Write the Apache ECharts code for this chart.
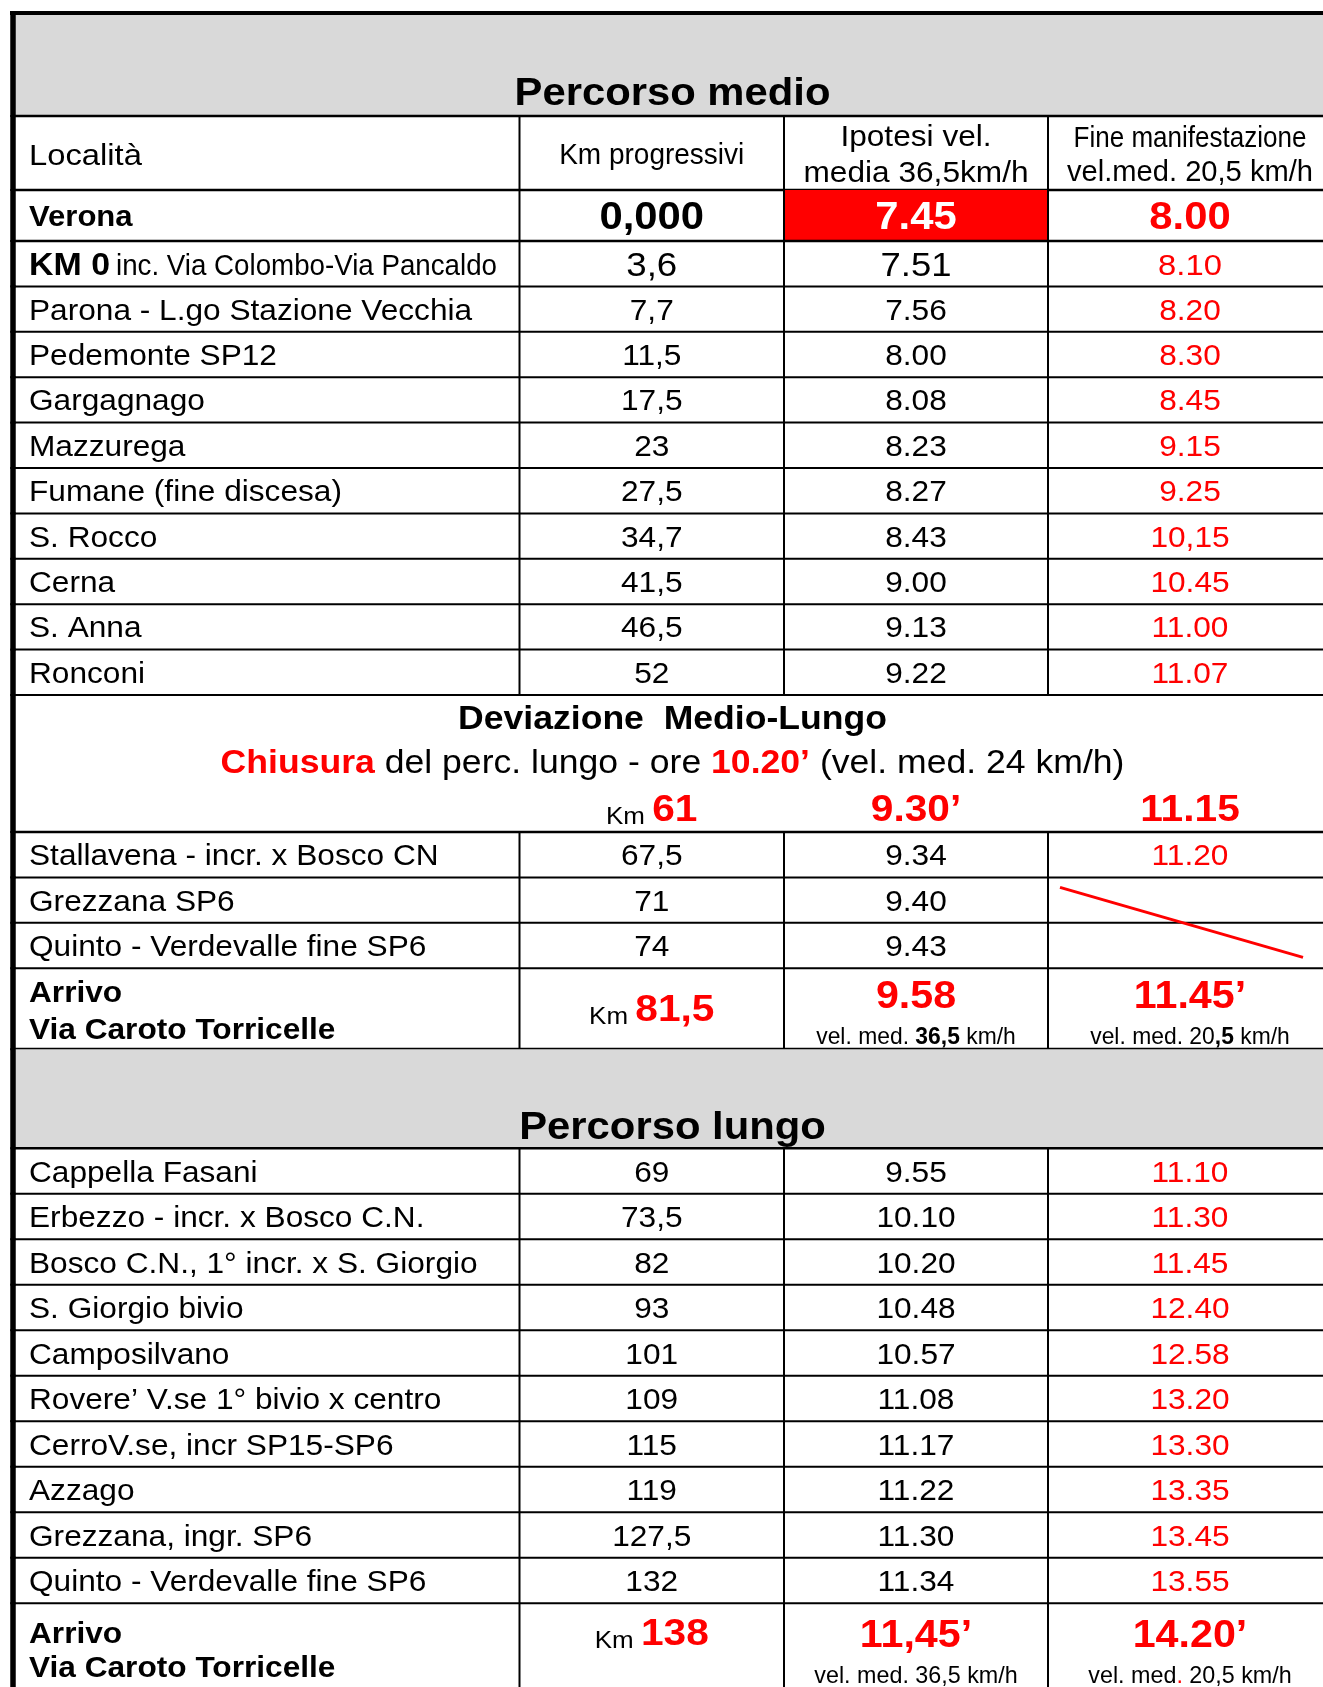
<!DOCTYPE html>
<html>
<head>
<meta charset="utf-8">
<script src="https://cdn.jsdelivr.net/npm/echarts@6/dist/echarts.min.js"></script>
<style>
  html, body { margin: 0; padding: 0; background: #fff; }
  #main { width: 1323px; height: 1687px; }
</style>
</head>
<body>
<div id="main"></div>
<script>
// --- dati della tabella ---
const titoli = ['Percorso medio', 'Percorso lungo'];
const intestazioni = ['Località', 'Km progressivi', 'Ipotesi vel.', 'media 36,5km/h', 'Fine manifestazione', 'vel.med. 20,5 km/h'];

const medioLocalita = ['Verona', 'KM 0', 'Parona - L.go Stazione Vecchia', 'Pedemonte SP12', 'Gargagnago',
  'Mazzurega', 'Fumane (fine discesa)', 'S. Rocco', 'Cerna', 'S. Anna', 'Ronconi'];
const km0Nota = 'inc. Via Colombo-Via Pancaldo';
const medioKm = ['0,000', '3,6', '7,7', '11,5', '17,5', '23', '27,5', '34,7', '41,5', '46,5', '52'];
const medioIpotesi = ['7.45', '7.51', '7.56', '8.00', '8.08', '8.23', '8.27', '8.43', '9.00', '9.13', '9.22'];
const medioFine = ['8.00', '8.10', '8.20', '8.30', '8.45', '9.15', '9.25', '10,15', '10.45', '11.00', '11.07'];

const deviazioneTitolo = 'Deviazione  Medio-Lungo';
const chiusura = ['Chiusura', ' del perc. lungo - ore ', '10.20’', ' (vel. med. 24 km/h)'];
const deviazione = ['61', '9.30’', '11.15'];
const devLocalita = ['Stallavena - incr. x Bosco CN', 'Grezzana SP6', 'Quinto - Verdevalle fine SP6'];
const devKm = ['67,5', '71', '74'];
const devIpotesi = ['9.34', '9.40', '9.43'];
const devFine = ['11.20', null, null];

const arrivo = ['Arrivo', 'Via Caroto Torricelle'];
const arrivoMedio = ['81,5', '9.58', '11.45’'];
const arrivoLungo = ['138', '11,45’', '14.20’'];

const lungoLocalita = ['Cappella Fasani', 'Erbezzo - incr. x Bosco C.N.', 'Bosco C.N., 1° incr. x S. Giorgio',
  'S. Giorgio bivio', 'Camposilvano', 'Rovere’ V.se 1° bivio x centro', 'CerroV.se, incr SP15-SP6',
  'Azzago', 'Grezzana, ingr. SP6', 'Quinto - Verdevalle fine SP6'];
const lungoKm = ['69', '73,5', '82', '93', '101', '109', '115', '119', '127,5', '132'];
const lungoIpotesi = ['9.55', '10.10', '10.20', '10.48', '10.57', '11.08', '11.17', '11.22', '11.30', '11.34'];
const lungoFine = ['11.10', '11.30', '11.45', '12.40', '12.58', '13.20', '13.30', '13.35', '13.45', '13.55'];

// --- layout ---
const W = 1323, H = 1687;
const RED = '#ff0000', GREY = '#d9d9d9';
const F = '"Liberation Sans", Arial, Helvetica, sans-serif';
const K = 1.045;          // testo un po' piu' alto e stretto
const SX = 1.13;
const DY = 2.5;
const colX = [13, 519.5, 784, 1048, 1332];

const RICH = {
  km: { fontFamily: F, fontSize: 23 * K, fill: '#000', verticalAlign: 'bottom' },
  big: { fontFamily: F, fontSize: 36 * K, fontWeight: 'bold', fill: RED, verticalAlign: 'bottom' },
  cr: { fontFamily: F, fontSize: 31.5 * K, fontWeight: 'bold', fill: RED },
  cn: { fontFamily: F, fontSize: 31.5 * K, fill: '#000' },
  s: { fontFamily: F, fontSize: 22 * K, fill: '#000' },
  sb: { fontFamily: F, fontSize: 22 * K, fontWeight: 'bold', fill: '#000' },
  sr: { fontFamily: F, fontSize: 22 * K, fill: RED }
};

function T(col, dy, text, o) { return Object.assign({ col: col, dy: dy, text: text, size: 28, sx: SX }, o || {}); }

const rows = [];
let yCur = 15;
function addRow(h, spec) { spec.y = yCur; spec.h = h; yCur += h; rows.push(spec); }

function bandRow(h, title, first) {
  addRow(h, { fill: GREY, vlines: false, top: first, line: 2.5,
    texts: [T('all', 77, title, { size: 37, bold: true })] });
}
function dataRow(h, nome, km, ip, fine, extra) {
  const texts = [T(0, h / 2, nome), T(1, h / 2, km), T(2, h / 2, ip)];
  if (fine != null) texts.push(T(3, h / 2, fine, { color: RED }));
  addRow(h, Object.assign({ vlines: true, line: 2, texts: texts }, extra || {}));
}

// Percorso medio
bandRow(101, titoli[0], true);
addRow(74, { vlines: true, line: 2.5, texts: [
  T(0, 38.5, intestazioni[0], { size: 29 }),
  T(1, 37, intestazioni[1], { sx: 1.0 }),
  T(2, 19.5, intestazioni[2]), T(2, 55, intestazioni[3]),
  T(3, 20.5, intestazioni[4], { sx: 0.93 }), T(3, 54.5, intestazioni[5], { sx: 1.04 })
] });
addRow(51, { vlines: true, line: 2.5, cellFill: [2, RED], texts: [
  T(0, 25.5, medioLocalita[0], { bold: true, sx: 1.11 }),
  T(1, 25.5, medioKm[0], { size: 37, bold: true }),
  T(2, 25.5, medioIpotesi[0], { size: 37, bold: true, color: '#fff' }),
  T(3, 25.5, medioFine[0], { size: 37, bold: true, color: RED })
] });
addRow(45.4, { vlines: true, line: 2, texts: [
  T(0, 22.7, medioLocalita[1], { size: 30, bold: true }),
  T(0, 23.2, km0Nota, { dx: 87, sx: 0.99 }),
  T(1, 22.7, medioKm[1], { size: 32.5 }),
  T(2, 22.7, medioIpotesi[1], { size: 32.3 }),
  T(3, 22.7, medioFine[1], { size: 29, color: RED })
] });
for (let i = 2; i < medioLocalita.length; i++) {
  dataRow(45.4, medioLocalita[i], medioKm[i], medioIpotesi[i], medioFine[i]);
}

// Deviazione
addRow(137, { vlines: false, line: 2.5, texts: [
  T('all', 22, deviazioneTitolo, { size: 31.5, bold: true }),
  T('all', 66.5, '{cr|' + chiusura[0] + '}{cn|' + chiusura[1] + '}{cr|' + chiusura[2] + '}{cn|' + chiusura[3] + '}', { rich: true, size: 31.5 }),
  T(1, 113, '{km|Km }{big|' + deviazione[0] + '}', { rich: true, size: 36 }),
  T(2, 113, deviazione[1], { size: 36, bold: true, color: RED }),
  T(3, 113, deviazione[2], { size: 36, bold: true, color: RED })
] });
for (let i = 0; i < devLocalita.length; i++) {
  dataRow(45.4, devLocalita[i], devKm[i], devIpotesi[i], devFine[i], i === 1 ? { slash: true } : null);
}
addRow(81, { vlines: true, line: 3, texts: [
  T(0, 23.5, arrivo[0], { bold: true }),
  T(0, 60, arrivo[1], { bold: true }),
  T(1, 40, '{km|Km }{big|' + arrivoMedio[0] + '}', { rich: true, size: 36 }),
  T(2, 27, arrivoMedio[1], { size: 36.5, bold: true, color: RED }),
  T(2, 67, '{s|vel. med. }{sb|36,5}{s| km/h}', { rich: true, size: 22, sx: 1.04 }),
  T(3, 27, arrivoMedio[2], { size: 36.5, bold: true, color: RED }),
  T(3, 67, '{s|vel. med. 20}{sb|,5}{s| km/h}', { rich: true, size: 22, sx: 1.04 })
] });

// Percorso lungo
bandRow(99, titoli[1], false);
for (let i = 0; i < lungoLocalita.length; i++) {
  dataRow(45.5, lungoLocalita[i], lungoKm[i], lungoIpotesi[i], lungoFine[i]);
}
addRow(110, { vlines: true, line: 2, texts: [
  T(0, 29, arrivo[0], { bold: true }),
  T(0, 63, arrivo[1], { bold: true }),
  T(1, 29, '{km|Km }{big|' + arrivoLungo[0] + '}', { rich: true, size: 36 }),
  T(2, 31, arrivoLungo[1], { size: 36.5, bold: true, color: RED }),
  T(2, 70.5, '{s|vel. med. 36,5 km/h}', { rich: true, size: 22, sx: 1.06 }),
  T(3, 31, arrivoLungo[2], { size: 36.5, bold: true, color: RED }),
  T(3, 70.5, '{s|vel. med}{sr|.}{s| 20,5 km/h}', { rich: true, size: 22, sx: 1.06 })
] });

function renderRow(params, api) {
  const r = rows[api.value(0)];
  const xs = colX.map(function (v) { return api.coord([v, r.y])[0]; });
  const y0 = api.coord([0, r.y])[1];
  const y1 = api.coord([0, r.y + r.h])[1];
  const children = [];
  if (r.fill) {
    children.push({ type: 'rect', shape: { x: xs[0], y: y0, width: xs[4] - xs[0], height: y1 - y0 }, style: { fill: r.fill } });
  }
  if (r.cellFill) {
    const c = r.cellFill[0];
    children.push({ type: 'rect', shape: { x: xs[c], y: y0, width: xs[c + 1] - xs[c], height: y1 - y0 }, style: { fill: r.cellFill[1] } });
  }
  r.texts.forEach(function (t) {
    let x;
    if (t.col === 'all') x = (xs[0] + xs[4]) / 2;
    else if (t.col === 0) x = xs[0] + 16 + (t.dx || 0);
    else x = (xs[t.col] + xs[t.col + 1]) / 2 + (t.dx || 0);
    const style = {
      text: t.text, fontFamily: F, fontSize: t.size * K, fontWeight: t.bold ? 'bold' : 'normal',
      fill: t.color || '#000', align: t.col === 0 ? 'left' : 'center', verticalAlign: 'middle'
    };
    if (t.rich) style.rich = RICH;
    children.push({ type: 'text', x: x, y: y0 + t.dy + DY, scaleX: t.sx / K, style: style });
  });
  if (r.vlines) {
    for (let c = 1; c <= 3; c++) {
      children.push({ type: 'line', shape: { x1: xs[c], y1: y0, x2: xs[c], y2: y1 }, style: { stroke: '#000', lineWidth: 2 } });
    }
  }
  children.push({ type: 'line', shape: { x1: xs[0], y1: y1, x2: xs[4], y2: y1 }, style: { stroke: '#000', lineWidth: r.line } });
  if (r.top) {
    children.push({ type: 'line', shape: { x1: xs[0] - 3, y1: y0 - 2, x2: xs[4], y2: y0 - 2 }, style: { stroke: '#000', lineWidth: 4 } });
  }
  // bordo sinistro spesso
  children.push({ type: 'line', shape: { x1: xs[0], y1: r.top ? y0 - 4 : y0 - 1, x2: xs[0], y2: y1 + 1 }, style: { stroke: '#000', lineWidth: 5.5 } });
  if (r.slash) {
    children.push({ type: 'line', shape: { x1: xs[3] + 12, y1: y0 + 10, x2: xs[3] + 255, y2: y0 + 80 }, style: { stroke: RED, lineWidth: 3 } });
  }
  return { type: 'group', children: children };
}

const chart = echarts.init(document.getElementById('main'), null, { renderer: 'canvas' });
chart.setOption({
  animation: false,
  backgroundColor: '#fff',
  grid: { left: 0, right: 0, top: 0, bottom: 0 },
  xAxis: { type: 'value', min: 0, max: W, show: false },
  yAxis: { type: 'value', min: 0, max: H, inverse: true, show: false },
  series: [{
    type: 'custom',
    silent: true,
    clip: false,
    renderItem: renderRow,
    encode: { x: 0, y: 1 },
    data: rows.map(function (r, i) { return [i, r.y]; })
  }]
});
</script>
</body>
</html>
